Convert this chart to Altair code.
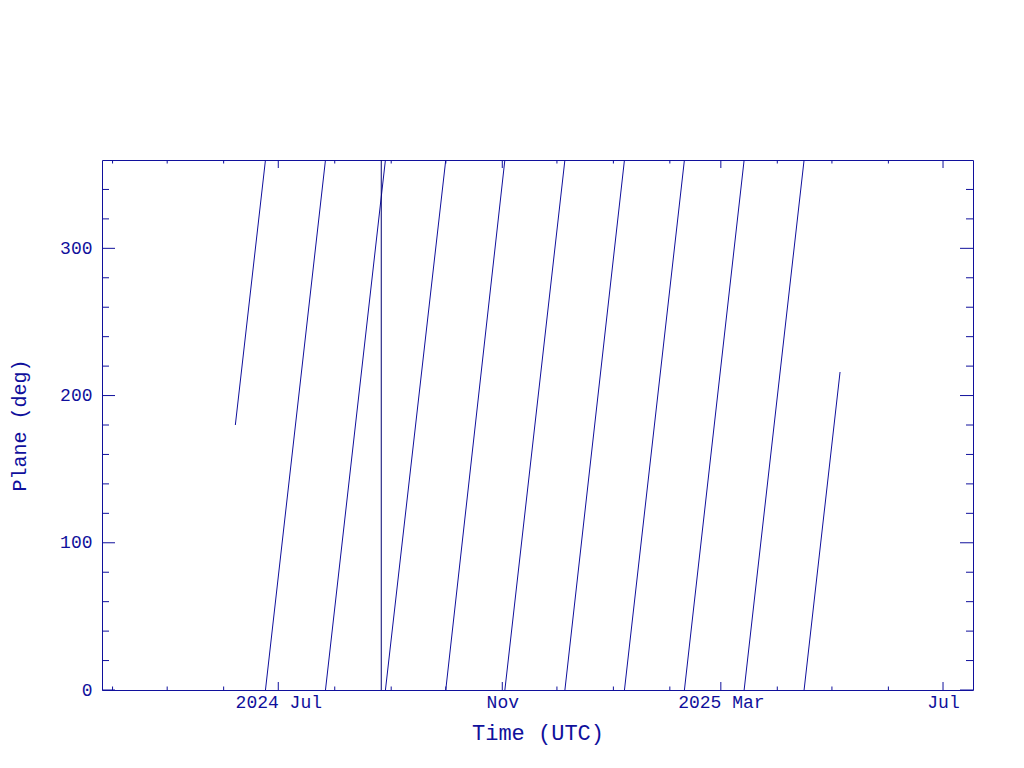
import altair as alt
import pandas as pd

# ---- data -------------------------------------------------------------
# sawtooth segments of the plane angle (UTC times, degrees)
seg_start_time = ["2024-06-07T10:00:00Z", "2024-06-23T23:00:00Z", "2024-07-26T22:00:00Z",
                  "2024-08-28T20:00:00Z", "2024-09-30T23:00:00Z", "2024-11-02T10:00:00Z",
                  "2024-12-05T09:00:00Z", "2025-01-07T02:00:00Z", "2025-02-09T00:00:00Z",
                  "2025-03-13T19:00:00Z", "2025-04-15T17:00:00Z"]
seg_end_time = ["2024-06-23T23:00:00Z", "2024-07-26T22:00:00Z", "2024-08-28T20:00:00Z",
                "2024-09-30T23:00:00Z", "2024-11-02T10:00:00Z", "2024-12-05T09:00:00Z",
                "2025-01-07T02:00:00Z", "2025-02-09T00:00:00Z", "2025-03-13T19:00:00Z",
                "2025-04-15T17:00:00Z", "2025-05-05T11:00:00Z"]
seg_start_deg = [180, 0, 0, 0, 0, 0, 0, 0, 0, 0, 0]
seg_end_deg = [360, 360, 360, 360, 360, 360, 360, 360, 360, 360, 216]

marker_time = ["2024-08-26T13:00:00Z"]

# axis ticks / labels
x_major_dates = ["2024-07-01", "2024-11-01", "2025-03-01", "2025-07-01"]
x_major_labels = ["2024 Jul", "Nov", "2025 Mar", "Jul"]
x_minor_dates = ["2024-04-01", "2024-05-01", "2024-06-01", "2024-08-01", "2024-09-01",
                 "2024-10-01", "2024-12-01", "2025-01-01", "2025-02-01", "2025-04-01",
                 "2025-05-01", "2025-06-01"]
y_major = [0, 100, 200, 300]
y_minor = [20, 40, 60, 80, 120, 140, 160, 180, 220, 240, 260, 280, 320, 340]
x_domain = ["2024-03-26T05:00:00Z", "2025-07-17T11:00:00Z"]
y_domain = [0, 360]

# ---- styling ------------------------------------------------------------
W, H = 871, 530
COL = "#10109c"
FONT = "Liberation Mono"


def dt(s):
    t = pd.Timestamp(s)
    if t.tzinfo is None:
        t = t.tz_localize("UTC")
    return alt.DateTime(year=t.year, month=t.month, date=t.day,
                        hours=t.hour, minutes=t.minute, utc=True)


def ms(s):
    return int(pd.Timestamp(s, tz="UTC").value // 10**6)


label_expr = "''"
for d, lab in reversed(list(zip(x_major_dates, x_major_labels))):
    label_expr = f"datum.value == {ms(d)} ? '{lab}' : ({label_expr})"

xscale = alt.Scale(type="utc", domain=[dt(x_domain[0]), dt(x_domain[1])], nice=False)
yscale = alt.Scale(domain=y_domain, nice=False, zero=False)

xaxis = alt.Axis(values=[dt(d) for d in x_major_dates], labelExpr=label_expr,
                 ticks=False, domain=False, grid=False, labelPadding=3,
                 labelFont=FONT, labelFontSize=18, labelColor=COL,
                 labelOverlap=False, labelFlush=False,
                 titleFont=FONT, titleFontSize=22, titleColor=COL,
                 titleFontWeight="normal", titleY=49, titleBaseline="alphabetic")
yaxis = alt.Axis(values=y_major, ticks=False, domain=False, grid=False,
                 labelPadding=10, labelFont=FONT, labelFontSize=18, labelColor=COL,
                 labelFlush=False, labelOverlap=False,
                 titleFont=FONT, titleFontSize=20, titleColor=COL,
                 titleFontWeight="normal", titleX=-77, titleY=265,
                 titleBaseline="alphabetic")


def X(field="t"):
    return alt.X(f"{field}:T", scale=xscale, axis=xaxis, title="Time (UTC)")


def Y(field="d"):
    return alt.Y(f"{field}:Q", scale=yscale, axis=yaxis, title="Plane (deg)")


segs = pd.DataFrame({"t": seg_start_time, "t2": seg_end_time,
                     "d": seg_start_deg, "d2": seg_end_deg})
lines = alt.Chart(segs).mark_rule(color=COL, strokeWidth=1).encode(
    x=X(), x2="t2:T", y=Y(), y2="d2:Q")

marker = alt.Chart(pd.DataFrame({"t": marker_time})).mark_rule(
    color="#000070", strokeWidth=1).encode(
    x=X(), y=alt.value(0), y2=alt.value(H))

xmaj = pd.DataFrame({"t": [d + "T00:00:00Z" for d in x_major_dates]})
xmin = pd.DataFrame({"t": [d + "T00:00:00Z" for d in x_minor_dates]})
ymaj = pd.DataFrame({"d": y_major})
ymin = pd.DataFrame({"d": y_minor})


def xticks(df, length):
    bottom = alt.Chart(df).mark_rule(color=COL).encode(
        x=X(), y=alt.value(H), y2=alt.value(H - length))
    top = alt.Chart(df).mark_rule(color=COL).encode(
        x=X(), y=alt.value(0), y2=alt.value(length))
    return [bottom, top]


def yticks(df, length):
    left = alt.Chart(df).mark_rule(color=COL).encode(
        y=Y(), x=alt.value(0), x2=alt.value(length))
    right = alt.Chart(df).mark_rule(color=COL).encode(
        y=Y(), x=alt.value(W), x2=alt.value(W - length))
    return [left, right]


layers = ([lines, marker] + xticks(xmaj, 8) + xticks(xmin, 3.5)
          + yticks(ymaj, 13) + yticks(ymin, 7))

chart = alt.layer(*layers).properties(
    width=W, height=H,
    autosize=alt.AutoSizeParams(type="none"),
    padding={"left": 94, "top": 152, "right": 40, "bottom": 60},
    background="white",
).configure_view(stroke=COL, strokeWidth=1)

chart.save("out.html", embed_options={"renderer": "svg", "actions": False})
